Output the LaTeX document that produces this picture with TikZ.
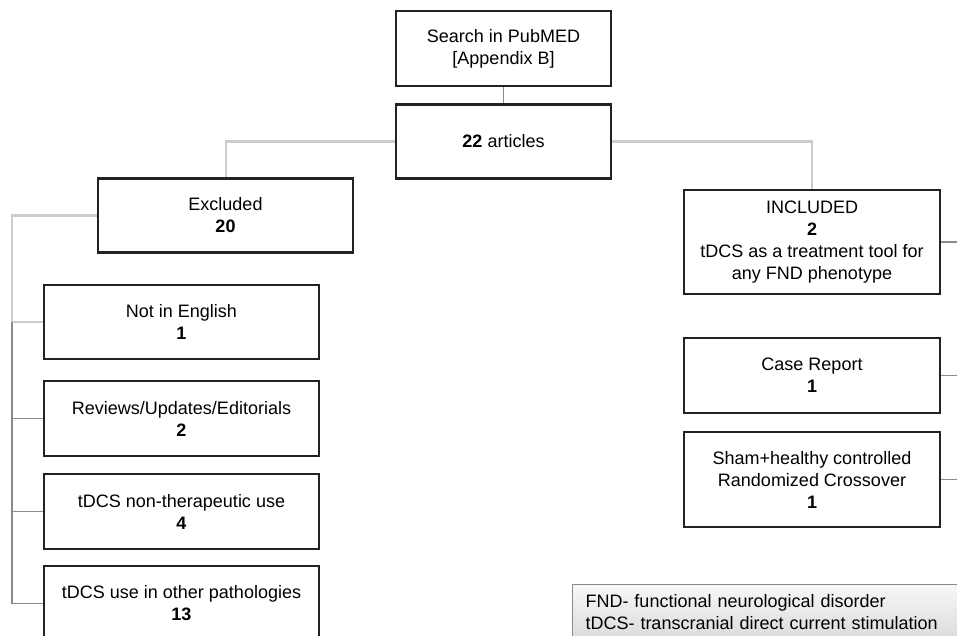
\documentclass[tikz,border=0pt]{standalone}
\usepackage{fontspec}
\setmainfont{Liberation Sans}
\usepackage{tikz}
\usetikzlibrary{calc}

\definecolor{boxline}{HTML}{222222}
\definecolor{linklight}{HTML}{CCCCCC}
\definecolor{linkdark}{HTML}{8A8A8A}

\tikzset{
  stagebox/.style={draw=boxline, line width=2.6pt, fill=white, align=center,
    inner sep=2pt, font=\fontsize{18}{22}\selectfont},
  mainlink/.style={draw=linklight, line width=2.6pt},
  sublink/.style={draw=linkdark, line width=1.5pt}
}

\begin{document}
\begin{tikzpicture}[x=1pt, y=-1pt]
\clip (0,0) rectangle (957,635);

% left and right rails
\coordinate (xl) at (12,0);
\coordinate (redge) at (962,0);

% connectors first, boxes on top
\path[mainlink] (396,141.5) -- (226,141.5) -- (226,178);
\path[mainlink] (611,141.5) -- (812,141.5) -- (812,190);

\node[stagebox, minimum width=215, minimum height=75] (search) at (503.5,48.5)
  {Search in PubMED\\{}[Appendix B]};
\node[stagebox, minimum width=215, minimum height=74] (articles) at (503.5,141.5)
  {\textbf{22} articles};
\node[stagebox, minimum width=255, minimum height=74] (excl) at (225.5,215.5)
  {Excluded\\\textbf{20}};
\node[stagebox, minimum width=256, minimum height=104] (incl) at (812,242)
  {INCLUDED\\\textbf{2}\\tDCS as a treatment tool for\\any FND phenotype};

% excluded branches
\node[stagebox, minimum width=275, minimum height=74] (eng) at (181.5,322)
  {Not in English\\\textbf{1}};
\node[stagebox, minimum width=275, minimum height=75] (rev) at (181.5,418.5)
  {Reviews/Updates/Editorials\\\textbf{2}};
\node[stagebox, minimum width=275, minimum height=75] (nonth) at (181.5,511.5)
  {tDCS non-therapeutic use\\\textbf{4}};
\node[stagebox, minimum width=275, minimum height=75] (other) at (181.5,603.5)
  {tDCS use in other pathologies\\\textbf{13}};

% included branches
\node[stagebox, minimum width=256, minimum height=75] (case) at (812,375.5)
  {Case Report\\\textbf{1}};
\node[stagebox, minimum width=256, minimum height=95] (sham) at (812,479.5)
  {Sham+healthy controlled\\Randomized Crossover\\\textbf{1}};

\node[draw=linkdark, line width=1pt, top color=gray!6, bottom color=gray!28,
  anchor=north west, align=left, text width=394, inner xsep=13, inner ysep=10,
  font=\fontsize{18}{21.5}\selectfont] (legend) at (572,584)
  {FND- functional neurological disorder\\tDCS- transcranial direct current stimulation};

\draw[sublink] (search.south) -- (articles.north);
\draw[mainlink] (excl.west) -- (excl.west -| xl) |- (eng.west);
\foreach \n in {rev, nonth, other}
  \draw[sublink] (xl |- eng.west) |- (\n.west);
\foreach \n in {incl, case, sham}
  \draw[sublink] (\n.east) -- (\n.east -| redge);
\end{tikzpicture}
\end{document}
